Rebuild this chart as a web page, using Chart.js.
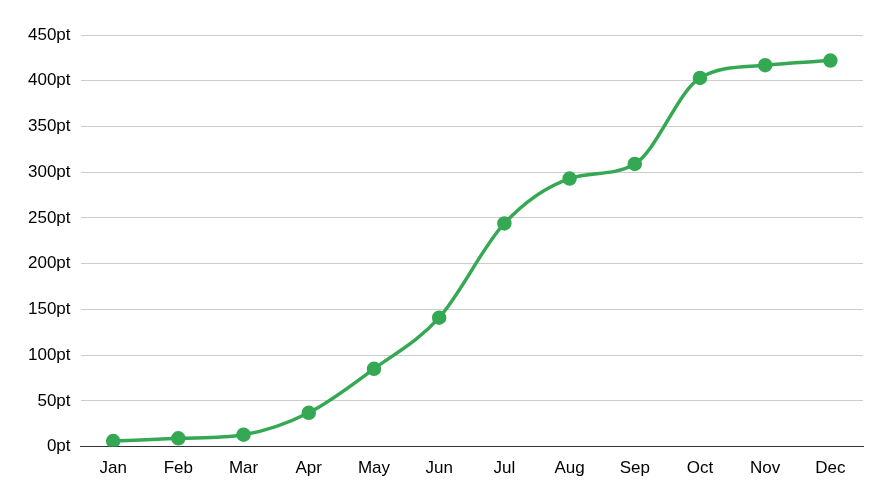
<!DOCTYPE html>
<html>
<head>
<meta charset="utf-8">
<script src="https://cdn.jsdelivr.net/npm/chart.js@4"></script>
<style>
  html, body { margin: 0; padding: 0; background: #fff; }
  #wrap { width: 889px; height: 503px; }
</style>
</head>
<body>
<div id="wrap"><canvas id="myChart"></canvas></div>
<script>
const ctx = document.getElementById('myChart');

let months = ['Jan', 'Feb', 'Mar', 'Apr', 'May', 'Jun', 'Jul', 'Aug', 'Sep', 'Oct', 'Nov', 'Dec'];
let points = [6, 9, 13, 37, 85, 141, 244, 293, 309, 403, 417, 422];
let yTicks = [0, 50, 100, 150, 200, 250, 300, 350, 400, 450];

new Chart(ctx, {
  type: 'line',
  data: {
    labels: months,
    datasets: [{
      label: 'Points',
      data: points,
      borderColor: '#34a853',
      backgroundColor: '#34a853',
      borderWidth: 3.5,
      pointRadius: 5.5,
      pointHoverRadius: 6,
      tension: 0.4,
      cubicInterpolationMode: 'monotone'
    }]
  },
  options: {
    responsive: true,
    maintainAspectRatio: false,
    animation: false,
    layout: { padding: { top: 35, right: 26, bottom: 12, left: 18 } },
    plugins: {
      legend: { display: false },
      tooltip: { enabled: false }
    },
    scales: {
      x: {
        offset: true,
        grid: { display: false, drawTicks: false },
        border: { display: true, color: '#333333', width: 1 },
        ticks: {
          color: '#000000',
          padding: 12,
          font: { family: 'Liberation Sans, Arial, sans-serif', size: 17 }
        }
      },
      y: {
        min: 0,
        max: 450,
        afterBuildTicks: (axis) => { axis.ticks = yTicks.map(v => ({ value: v })); },
        grid: { color: '#cccccc', drawTicks: false },
        border: { display: false },
        ticks: {
          color: '#000000',
          padding: 10,
          font: { family: 'Liberation Sans, Arial, sans-serif', size: 17 },
          callback: (v) => v + 'pt'
        }
      }
    }
  }
});
</script>
</body>
</html>
